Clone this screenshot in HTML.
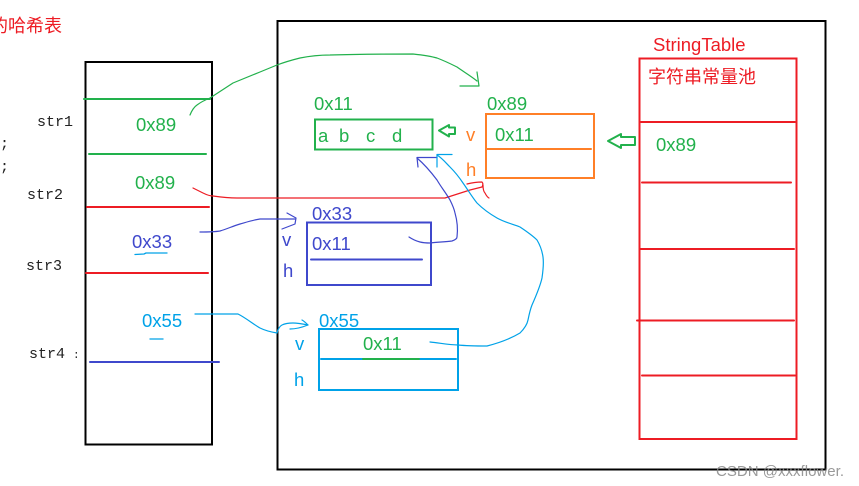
<!DOCTYPE html>
<html>
<head>
<meta charset="utf-8">
<style>
html,body{margin:0;padding:0;background:#fff;width:859px;height:486px;overflow:hidden}
svg{display:block}
text{font-family:"Liberation Sans","Noto Sans CJK SC",sans-serif;font-size:18.5px}
.m{font-family:"Liberation Mono",monospace;font-size:15px;fill:#222}
.g{fill:#22b14c}.r{fill:#ed1c24}.b{fill:#3f48cc}.c{fill:#00a2e8}.o{fill:#ff7f27}
path{fill:none;stroke-linecap:round;stroke-linejoin:round}
</style>
</head>
<body>
<svg width="859" height="486" viewBox="0 0 859 486" xmlns="http://www.w3.org/2000/svg">
<!-- outer boxes -->
<rect x="85.5" y="62" width="126.500" height="382.500" fill="none" stroke="#000" stroke-width="2"/>
<rect x="277.500" y="21" width="548" height="448.500" fill="none" stroke="#000" stroke-width="2"/>

<!-- title / code fragments -->
<text x="-10" y="32" class="r" style="font-size:18px">的哈希表</text>
<text x="0" y="148" class="m">;</text>
<text x="0" y="171" class="m">;</text>
<text x="37" y="126" class="m">str1</text>
<text x="27" y="199" class="m">str2</text>
<text x="26" y="270" class="m">str3</text>
<text x="29" y="358" class="m">str4</text>
<text x="73" y="358" class="m" style="font-size:11px">:</text>

<!-- left table rows -->
<path d="M84 99H210" stroke="#22b14c" stroke-width="2"/>
<path d="M89 154H206" stroke="#22b14c" stroke-width="2"/>
<path d="M87 207H209" stroke="#ed1c24" stroke-width="2"/>
<path d="M86 273H208" stroke="#ed1c24" stroke-width="2"/>
<path d="M90 362H219" stroke="#3f48cc" stroke-width="2"/>
<text x="136" y="131" class="g">0x89</text>
<text x="135" y="189" class="g">0x89</text>
<text x="132" y="248" class="b">0x33</text>
<text x="142" y="327" class="c">0x55</text>
<path d="M135 254.500L144 254L146 253H167" stroke="#00a2e8" stroke-width="1.300"/>
<path d="M150 339H163" stroke="#00a2e8" stroke-width="1.300"/>

<!-- 0x11 char array -->
<text x="314" y="110" class="g">0x11</text>
<rect x="315" y="119.500" width="117.500" height="30" fill="none" stroke="#22b14c" stroke-width="2"/>
<text x="318" y="142" class="g">a</text>
<text x="339" y="142" class="g">b</text>
<text x="366" y="142" class="g">c</text>
<text x="392" y="142" class="g">d</text>

<!-- 0x89 string object -->
<text x="487" y="110" class="g">0x89</text>
<rect x="486" y="114" width="108" height="64" fill="none" stroke="#ff7f27" stroke-width="2"/>
<path d="M486 149H591" stroke="#ff7f27" stroke-width="2"/>
<text x="495" y="141" class="g">0x11</text>
<text x="466" y="141" class="o">v</text>
<text x="466" y="176" class="o">h</text>

<!-- 0x33 string object -->
<text x="312" y="220" class="b">0x33</text>
<rect x="307" y="222.500" width="124" height="62.500" fill="none" stroke="#3f48cc" stroke-width="2"/>
<path d="M311 259.500H422" stroke="#3f48cc" stroke-width="2"/>
<text x="312" y="250" class="b">0x11</text>
<text x="282" y="246" class="b">v</text>
<text x="283" y="277" class="b">h</text>

<!-- 0x55 string object -->
<text x="319" y="327" class="c">0x55</text>
<rect x="319" y="329" width="139" height="61" fill="none" stroke="#00a2e8" stroke-width="2"/>
<path d="M321 359H456" stroke="#00a2e8" stroke-width="2"/>
<path d="M363 359H419" stroke="#22b14c" stroke-width="2"/>
<text x="363" y="350" class="g">0x11</text>
<text x="295" y="350" class="c">v</text>
<text x="294" y="386" class="c">h</text>

<!-- StringTable -->
<text x="653" y="51" class="r">StringTable</text>
<rect x="639.500" y="58.500" width="157" height="380.500" fill="none" stroke="#ed1c24" stroke-width="2"/>
<text x="648" y="83" class="r" style="font-size:18px">字符串常量池</text>
<path d="M641 122H795" stroke="#ed1c24" stroke-width="2"/>
<path d="M642 182.500H791" stroke="#ed1c24" stroke-width="2"/>
<path d="M640 249H794" stroke="#ed1c24" stroke-width="2"/>
<path d="M637 320.500H794" stroke="#ed1c24" stroke-width="2"/>
<path d="M642 375.500H795" stroke="#ed1c24" stroke-width="2"/>
<text x="656" y="151" class="g">0x89</text>

<!-- hollow arrows -->
<path d="M635 137V145H621V148L608 141L621 134V137Z" stroke="#22b14c" stroke-width="2"/>
<path d="M455 127.500V134H449V136.500L439 130.500L449 125V127.500Z" stroke="#22b14c" stroke-width="2"/>

<!-- green curve: str1 to 0x89 -->
<path d="M190 115C192 110 194 107 197 105C201 102 205 100 210 98L233 83L260 72L277 65C285 62 292 60 300 58C310 56 320 55 330 55C360 54 390 54 413 54C422 55 430 56 437 58C445 61 451 64 457 67C464 72 471 76 477 81" stroke="#22b14c" stroke-width="1.200"/>
<path d="M477 72L479 86H460" stroke="#22b14c" stroke-width="1.200"/>

<!-- red curve: str2 to h -->
<path d="M193 188L203 193C207 195 210 196 213 196C220 197 228 198 237 198H445L470 190L482 187C483 185 483 183 482 182C476 182 471 183 467 184" stroke="#ed1c24" stroke-width="1.200"/>
<path d="M483 185C483 189 484 192 485 193C486 195 487 197 489 198" stroke="#ed1c24" stroke-width="1.200"/>

<!-- blue curve: str3 -->
<path d="M200 232C208 232 214 232 220 231C227 229 233 226 240 224C247 222 253 220 260 219H295" stroke="#3f48cc" stroke-width="1.200"/>
<path d="M287 213L296 218L295 224L282 229" stroke="#3f48cc" stroke-width="1.200"/>
<path d="M409 237C412 239 416 241 420 242C424 243 427 243 430 243C437 242 445 242 452 241C455 240 457 239 457 237C458 229 457 220 455 213C454 208 452 204 450 200C446 193 441 187 437 180C431 172 424 164 417 158" stroke="#3f48cc" stroke-width="1.200"/>
<path d="M417 157.500H437M417 157.500L418 167" stroke="#3f48cc" stroke-width="1.200"/>

<!-- cyan curve: str4 -->
<path d="M195 314H238C246 318 253 324 260 328C266 331 271 332 277 333C278 329 280 326 282 325C286 323 290 323 293 323C298 323 303 324 308 325" stroke="#00a2e8" stroke-width="1.200"/>
<path d="M290 329C297 329 303 327 308 325C306 323 304 321 302 320" stroke="#00a2e8" stroke-width="1.200"/>
<path d="M430 342C440 343 449 345 458 345C468 346 478 346 487 346C499 343 510 339 520 333C524 329 527 325 528 320C529 315 530 310 532 305C536 296 540 287 542 278C543 271 544 264 543 257C542 250 540 245 537 240C532 235 526 231 520 227C512 224 504 222 497 218C490 214 483 209 477 203C472 197 468 190 463 183C459 177 455 172 450 167C446 163 442 158 437 155" stroke="#00a2e8" stroke-width="1.200"/>
<path d="M437 154.500H452M437 154.500V167" stroke="#00a2e8" stroke-width="1.200"/>

<!-- watermark -->
<text x="716" y="476" style="font-size:15px" fill="#888" opacity=".85" textLength="128" lengthAdjust="spacingAndGlyphs">CSDN @xxxflower.</text>
</svg>
</body>
</html>
